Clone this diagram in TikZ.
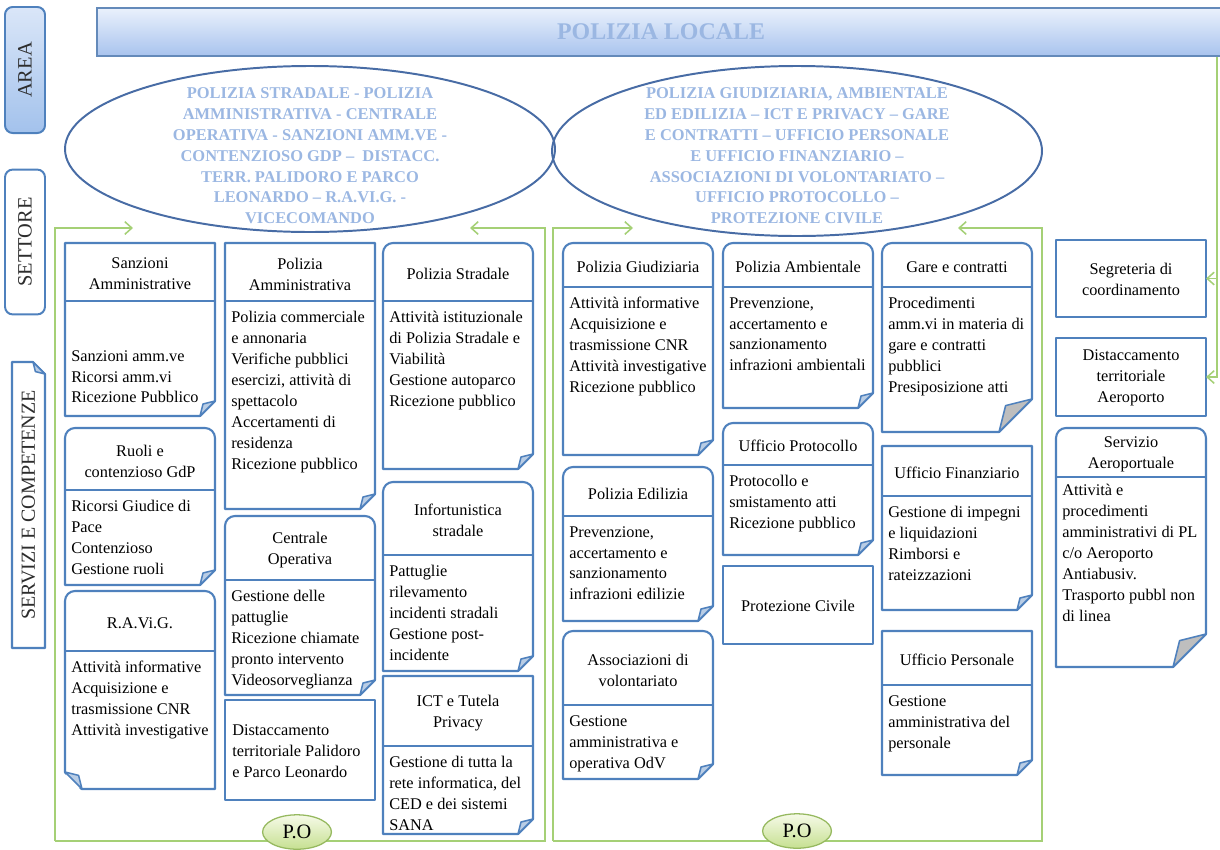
\documentclass[tikz,border=0pt]{standalone}
\usepackage{fontspec}
\setmainfont{Liberation Serif}
\usetikzlibrary{shapes.geometric,arrows.meta}

\definecolor{cardblue}{RGB}{79,129,189}
\definecolor{foldblue}{RGB}{185,205,229}
\definecolor{foldgrey}{RGB}{190,190,190}
\definecolor{framegreen}{RGB}{165,208,118}
\definecolor{capsblue}{RGB}{155,183,226}
\definecolor{barlight}{RGB}{234,241,252}
\definecolor{bardark}{RGB}{168,195,238}
\definecolor{baredge}{RGB}{100,138,186}
\definecolor{arealight}{RGB}{218,230,248}
\definecolor{areadark}{RGB}{163,194,236}
\definecolor{polight}{RGB}{246,250,232}
\definecolor{podark}{RGB}{198,224,145}
\definecolor{poedge}{RGB}{150,185,95}
\definecolor{ellblue}{RGB}{72,108,165}
\definecolor{labelgrey}{RGB}{45,45,45}

\newcommand{\cardfont}{\fontsize{11.6}{14.9}\selectfont}

\tikzset{
  cardline/.style={draw=cardblue, line width=1.5pt, fill=white, line join=round},
  hdrline/.style={draw=cardblue, line width=1.5pt},
  flap/.style={draw=cardblue, line width=1.1pt, fill=#1, line join=round},
  cardtitle/.style={align=center, font=\cardfont, inner sep=0pt},
  cardbody/.style={align=left, anchor=north west, font=\cardfont, inner sep=0pt},
  greenline/.style={draw=framegreen, line width=1.1pt},
  greenarrow/.style={greenline, -{Straight Barb[length=5pt,width=9pt]}},
  sectorname/.style={align=center, font=\fontsize{11.7}{14.8}\selectfont\bfseries, text=capsblue, inner sep=0pt},
  ellline/.style={draw=ellblue, line width=1.4pt},
  sidebox/.style={rotate=90, draw=cardblue, line width=1.4pt, rounded corners=5.5pt, minimum height=1cm, inner sep=0pt, text=labelgrey, font=\fontsize{14.5}{17}\selectfont},
  sidelabel/.style={rotate=90, text=labelgrey, font=\fontsize{14.2}{17}\selectfont},
  pobubble/.style={ellipse, draw=poedge, line width=0.9pt, top color=polight, bottom color=podark, minimum width=1.72cm, minimum height=0.86cm, inner sep=0pt, font=\fontsize{14.5}{16}\selectfont},
  barstyle/.style={draw=baredge, line width=1.2pt, top color=barlight, bottom color=bardark, text=capsblue, font=\fontsize{17}{20}\selectfont\bfseries},
}

% [flap colour]{name}{left}{top}{bottom}{header line, 0 = none}{corner radius}{fold}
\newcommand{\card}[8][foldblue]{%
  \ifnum#7=0
    \draw[cardline] (#3,#5) -- (#3,#4) -- (#3+150,#4) -- (#3+150,#5-#8) -- (#3+150-#8,#5) -- cycle;
  \else
    \draw[cardline] (#3,#5) -- (#3,#4+#7) arc[start angle=180,end angle=270,radius=#7]
      -- (#3+150-#7,#4) arc[start angle=270,end angle=360,radius=#7]
      -- (#3+150,#5-#8) -- (#3+150-#8,#5) -- cycle;
  \fi
  \ifnum#8>0
    \filldraw[flap=#1] (#3+150,#5-#8) -- (#3+150-0.8*#8,#5-0.8*#8) -- (#3+150-#8,#5) -- cycle;
  \fi
  \coordinate (#2-e) at (#3+150,{(#4+#5)/2});
  \ifnum#6=0
    \coordinate (#2-t) at (#3+75,{(#4+#5)/2+1});
  \else
    \draw[hdrline] (#3,#6) -- (#3+150,#6);
    \coordinate (#2-t) at (#3+75,{(#4+#6)/2+2});
    \coordinate (#2-b) at (#3+6,#6+10);
  \fi
}

\begin{document}
\begin{tikzpicture}[x=0.025cm, y=-0.025cm]
\useasboundingbox (0,0) rectangle (1220,849);

% green frames
\coordinate (lf-nw) at (55,228);
\coordinate (lf-sw) at (55,841);
\coordinate (lf-se) at (545,841);
\coordinate (lf-ne) at (545,228);
\coordinate (lf-a) at (133,228);
\coordinate (lf-b) at (470,228);
\draw[greenarrow] (lf-sw) -- (lf-nw) -- (lf-a);
\draw[greenarrow] (lf-sw) -- (lf-se) -- (lf-ne) -- (lf-b);
\coordinate (rf-nw) at (553,228);
\coordinate (rf-sw) at (553,841);
\coordinate (rf-se) at (1042,841);
\coordinate (rf-ne) at (1042,228);
\coordinate (rf-a) at (633,228);
\coordinate (rf-b) at (958,228);
\draw[greenarrow] (rf-sw) -- (rf-nw) -- (rf-a);
\draw[greenarrow] (rf-sw) -- (rf-se) -- (rf-ne) -- (rf-b);

% left sector
\card{sanz}{65}{243}{416}{301}{0}{15}
\node[cardtitle] (sanzT) at (sanz-t) {Sanzioni\\Amministrative};
\node[cardbody] (sanzB) at (71,350) {Sanzioni amm.ve\\Ricorsi amm.vi\\Ricezione Pubblico};
\card{ruoli}{65}{428}{585}{490}{10}{15}
\node[cardtitle] (ruoliT) at (ruoli-t) {Ruoli e\\contenzioso GdP};
\node[cardbody] (ruoliB) at (ruoli-b) {Ricorsi Giudice di\\Pace\\Contenzioso\\Gestione ruoli};
\card{ravig}{65}{591}{789}{651}{10}{0}
\fill[white] (63,772) -- (63,791) -- (82,791) -- cycle;
\filldraw[flap=foldblue] (65,772) -- (65+0.8*17,789-0.8*17) -- (82,789) -- cycle;
\node[cardtitle] (ravigT) at (ravig-t) {R.A.Vi.G.};
\node[cardbody] (ravigB) at (ravig-b) {Attività informative\\Acquisizione e\\trasmissione CNR\\Attività investigative};

\card{padm}{225}{243}{509}{301}{0}{15}
\node[cardtitle] (padmT) at (padm-t) {Polizia\\Amministrativa};
\node[cardbody] (padmB) at (padm-b) {Polizia commerciale\\e annonaria\\Verifiche pubblici\\esercizi, attività di\\spettacolo\\Accertamenti di\\residenza\\Ricezione pubblico};
\card{cop}{225}{516}{695}{580}{10}{15}
\node[cardtitle] (copT) at (cop-t) {Centrale\\Operativa};
\node[cardbody] (copB) at (cop-b) {Gestione delle\\pattuglie\\Ricezione chiamate\\pronto intervento\\Videosorveglianza};
\card{dpal}{225}{700}{800}{0}{0}{0}
\node[cardbody] (dpalT) at (232,724) {Distaccamento\\territoriale Palidoro\\e Parco Leonardo};

\card{pstr}{383}{243}{469}{301}{10}{15}
\node[cardtitle] (pstrT) at (pstr-t) {Polizia Stradale};
\node[cardbody] (pstrB) at (pstr-b) {Attività istituzionale\\di Polizia Stradale e\\Viabilità\\Gestione autoparco\\Ricezione pubblico};
\card{infs}{383}{482}{671}{555}{10}{15}
\node[cardtitle] (infsT) at (infs-t) {Infortunistica\\stradale};
\node[cardbody] (infsB) at (infs-b) {Pattuglie\\rilevamento\\incidenti stradali\\Gestione post-\\incidente};
\card{ict}{383}{676}{834}{746}{0}{15}
\node[cardtitle] (ictT) at (ict-t) {ICT e Tutela\\Privacy};
\node[cardbody] (ictB) at (ict-b) {Gestione di tutta la\\rete informatica, del\\CED e dei sistemi\\SANA};

% right sector
\card{pgiu}{563}{243}{455}{287}{10}{15}
\node[cardtitle] (pgiuT) at (pgiu-t) {Polizia Giudiziaria};
\node[cardbody] (pgiuB) at (pgiu-b) {Attività informative\\Acquisizione e\\trasmissione CNR\\Attività investigative\\Ricezione pubblico};
\card{pedi}{563}{467}{621}{516}{10}{15}
\node[cardtitle] (pediT) at (pedi-t) {Polizia Edilizia};
\node[cardbody] (pediB) at (pedi-b) {Prevenzione,\\accertamento e\\sanzionamento\\infrazioni edilizie};
\card{asso}{563}{631}{779}{705}{10}{15}
\node[cardtitle] (assoT) at (asso-t) {Associazioni di\\volontariato};
\node[cardbody] (assoB) at (asso-b) {Gestione\\amministrativa e\\operativa OdV};

\card{pamb}{723}{243}{408}{287}{10}{15}
\node[cardtitle] (pambT) at (pamb-t) {Polizia Ambientale};
\node[cardbody] (pambB) at (pamb-b) {Prevenzione,\\accertamento e\\sanzionamento\\infrazioni ambientali};
\card{prot}{723}{423}{555}{465}{10}{15}
\node[cardtitle] (protT) at (prot-t) {Ufficio Protocollo};
\node[cardbody] (protB) at (prot-b) {Protocollo e\\smistamento atti\\Ricezione pubblico};
\card{pciv}{723}{566}{644}{0}{0}{0}
\node[cardtitle] (pcivT) at (pciv-t) {Protezione Civile};

\card[foldgrey]{gare}{882}{243}{432}{287}{10}{33}
\node[cardtitle] (gareT) at (gare-t) {Gare e contratti};
\node[cardbody] (gareB) at (gare-b) {Procedimenti\\amm.vi in materia di\\gare e contratti\\pubblici\\Presiposizione atti};
\card{ufin}{882}{446}{610}{496}{0}{15}
\node[cardtitle] (ufinT) at (ufin-t) {Ufficio Finanziario};
\node[cardbody] (ufinB) at (ufin-b) {Gestione di impegni\\e liquidazioni\\Rimborsi e\\rateizzazioni};
\card{uper}{882}{631}{775}{685}{0}{15}
\node[cardtitle] (uperT) at (uper-t) {Ufficio Personale};
\node[cardbody] (uperB) at (uper-b) {Gestione\\amministrativa del\\personale};

% airport column
\card{segr}{1056}{240}{317}{0}{0}{0}
\node[cardtitle] (segrT) at (segr-t) {Segreteria di\\coordinamento};
\card{daer}{1056}{338}{416}{0}{0}{0}
\node[cardtitle] (daerT) at (daer-t) {Distaccamento\\territoriale\\Aeroporto};
\card[foldgrey]{saer}{1056}{428}{667}{477}{10}{33}
\node[cardtitle] (saerT) at (saer-t) {Servizio\\Aeroportuale};
\node[cardbody] (saerB) at (1062,484) {Attività e\\procedimenti\\amministrativi di PL\\c/o Aeroporto\\Antiabusiv.\\Trasporto pubbl non\\di linea};

\coordinate (re-top) at (1217,57);
\draw[greenarrow] (re-top) |- (segr-e);
\draw[greenarrow] (re-top) |- (daer-e);

\node[pobubble] (po1) at (297,832) {P.O};
\node[pobubble] (po2) at (797,831) {P.O};

% sectors
\draw[ellline] (310,149) ellipse [x radius=245, y radius=83];
\draw[ellline] (797,151) ellipse [x radius=245, y radius=85];
\node[sectorname] (secL) at (310,156) {POLIZIA STRADALE - POLIZIA\\AMMINISTRATIVA - CENTRALE\\OPERATIVA - SANZIONI AMM.VE -\\CONTENZIOSO GDP --\ \ DISTACC.\\TERR. PALIDORO E PARCO\\LEONARDO -- R.A.VI.G. -\\VICECOMANDO};
\node[sectorname] (secR) at (797,156) {POLIZIA GIUDIZIARIA, AMBIENTALE\\ED EDILIZIA -- ICT E PRIVACY -- GARE\\E CONTRATTI -- UFFICIO PERSONALE\\E UFFICIO FINANZIARIO --\\ASSOCIAZIONI DI VOLONTARIATO --\\UFFICIO PROTOCOLLO --\\PROTEZIONE CIVILE};

\node[barstyle, minimum width=28.2cm, minimum height=1.2cm] (locale) at (661,32) {POLIZIA LOCALE};

% row labels
\node[sidebox, top color=arealight, bottom color=areadark, minimum width=3.15cm] (area) at (25,70) {AREA};
\node[sidebox, fill=white, minimum width=3.62cm] (settore) at (25,242) {SETTORE};
\draw[cardline] (12,648) -- (12,362) -- (33,362) -- (45,374) -- (45,648) -- cycle;
\filldraw[flap=foldblue] (33,362) -- (45-0.8*12,362+0.8*12) -- (45,374) -- cycle;
\node[sidelabel] (servizi) at (28.5,505) {SERVIZI E COMPETENZE};
\end{tikzpicture}
\end{document}
